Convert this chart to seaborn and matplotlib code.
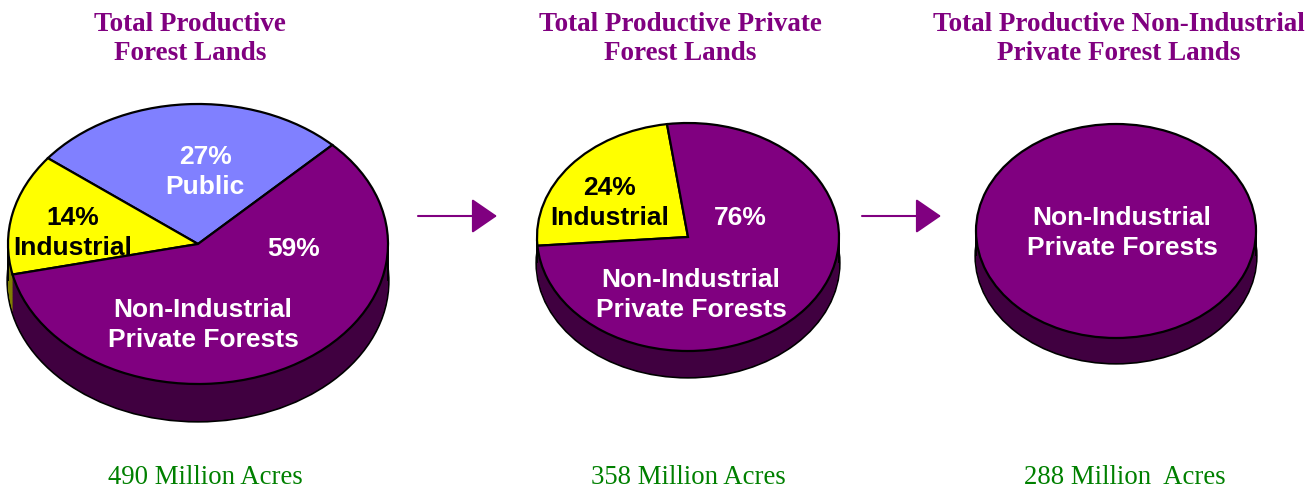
import numpy as np
import matplotlib
matplotlib.use("Agg")
import matplotlib.pyplot as plt
from matplotlib.patches import Ellipse
import seaborn as sns

# ---------------- data ----------------
titles = ["Total Productive\nForest Lands",
          "Total Productive Private\nForest Lands",
          "Total Productive Non-Industrial\nPrivate Forest Lands"]
acres = ["490 Million Acres", "358 Million Acres", "288 Million  Acres"]

pie1_cats = ["Public", "Industrial", "Non-Industrial\nPrivate Forests"]
pie1_vals = [27, 14, 59]
pie2_cats = ["Industrial", "Non-Industrial\nPrivate Forests"]
pie2_vals = [24, 76]
pie3_cats = ["Non-Industrial\nPrivate Forests"]
pie3_vals = [100]

# ---------------- style ----------------
sns.set_theme(style="white")
plt.rcParams['font.family'] = ['Liberation Sans', 'DejaVu Sans']

PURPLE = "#800080"
top_colors = {"Public": "#8080FF", "Industrial": "#FFFF00",
              "Non-Industrial\nPrivate Forests": PURPLE}
side_colors = {"Public": "#404080", "Industrial": "#808000",
               "Non-Industrial\nPrivate Forests": "#400040"}

W, H = 1314, 489
fig = plt.figure(figsize=(W / 100, H / 100), dpi=100)
fig.patch.set_facecolor("white")

# geometry of each 3D pie in pixels: centre x, centre y, semi-axes a, b, depth, start angle
geoms = [(198, 245, 190, 140, 37, 45),
         (688, 238, 151, 114, 26, 98),
         (1116, 232, 140, 107, 25, 90)]
pies = [(pie1_cats, pie1_vals), (pie2_cats, pie2_vals), (pie3_cats, pie3_vals)]

for (cats, vals), (cx, cy, a, b, d, start) in zip(pies, geoms):
    ax = fig.add_axes([(cx - a - 3) / W, (H - (cy + b + d + 3)) / H,
                       (2 * a + 6) / W, (2 * b + d + 6) / H])
    dep = d / b
    tops = [top_colors[c] for c in cats]
    sides = [side_colors[c] for c in cats]
    # bottom outline
    ax.add_patch(Ellipse((0, -dep), 2, 2, fill=False, edgecolor="black",
                         lw=2.4, zorder=1))
    # extruded side
    for k in np.linspace(dep, 0, 60):
        w, _ = ax.pie(vals, colors=sides, startangle=start, counterclock=True,
                      center=(0, -k), radius=1,
                      wedgeprops=dict(linewidth=0, antialiased=True))
        for p in w:
            p.set_zorder(2)
    ax.vlines([-1, 1], -dep, 0, colors="black", lw=1.4, zorder=3)
    # top face
    w, _ = ax.pie(vals, colors=tops, startangle=start, counterclock=True,
                  center=(0, 0), radius=1,
                  wedgeprops=dict(linewidth=1.6, edgecolor="black"))
    for p in w:
        p.set_zorder(4)
    ax.set_aspect("auto")
    ax.set_xlim(-1 - 3 / a, 1 + 3 / a)
    ax.set_ylim(-1 - dep - 3 / b, 1 + 3 / b)
    ax.axis("off")

# overlay for text and arrows (pixel coordinates)
ov = fig.add_axes([0, 0, 1, 1])
ov.set_xlim(0, W)
ov.set_ylim(H, 0)
ov.axis("off")
ov.patch.set_alpha(0)

serif = ['Liberation Serif', 'DejaVu Serif']
title_x = [190, 680, 1119]
for t, x in zip(titles, title_x):
    ov.text(x, 39, t, ha="center", va="center", color=PURPLE,
            fontsize=19.5, fontweight="bold", family=serif, linespacing=1.26)
acre_x = [205, 688, 1125]
for t, x in zip(acres, acre_x):
    ov.text(x, 477, t, ha="center", va="center", color="#008000",
            fontsize=19.3, family=serif)

lab = dict(ha="center", va="center", fontsize=19, fontweight="bold",
           linespacing=1.27)
# pie 1
ov.text(205, 172, f"{pie1_vals[0]}%\n{pie1_cats[0]}", color="white", **lab)
ov.text(73, 233, f"{pie1_vals[1]}%\n{pie1_cats[1]}", color="black", **lab)
ov.text(294, 249, f"{pie1_vals[2]}%", color="white", **lab)
ov.text(203, 325, pie1_cats[2], color="white", **lab)
# pie 2
ov.text(610, 203, f"{pie2_vals[0]}%\n{pie2_cats[0]}", color="black", **lab)
ov.text(740, 218, f"{pie2_vals[1]}%", color="white", **lab)
ov.text(691, 295, pie2_cats[1], color="white", **lab)
# pie 3
ov.text(1122, 233, pie3_cats[0], color="white", **lab)

# arrows
for x0, x1 in [(418, 497), (862, 941)]:
    ov.annotate("", xy=(x1, 217), xytext=(x0, 217),
                arrowprops=dict(arrowstyle="-|>,head_length=0.8,head_width=0.55",
                                color=PURPLE, lw=1.5, mutation_scale=20,
                                shrinkA=0, shrinkB=0))

fig.savefig("out.png", dpi=100, facecolor="white")
